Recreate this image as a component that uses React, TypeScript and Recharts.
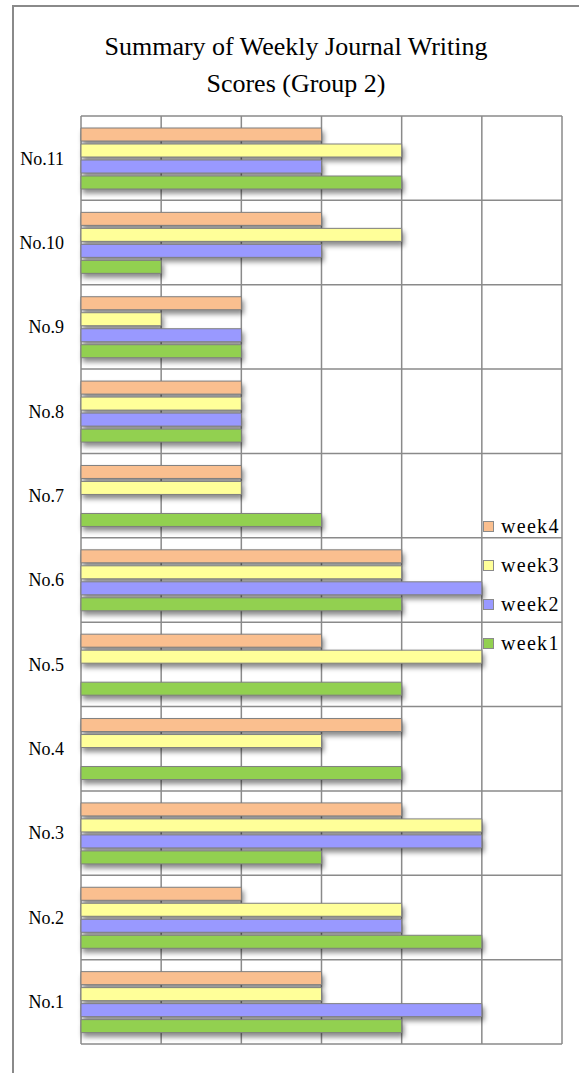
import React from 'react';
import { BarChart, Bar, XAxis, YAxis, CartesianGrid } from 'recharts';

const categories = ['No.1', 'No.2', 'No.3', 'No.4', 'No.5', 'No.6', 'No.7', 'No.8', 'No.9', 'No.10', 'No.11'];
const week1 = [4, 5, 3, 4, 4, 4, 3, 2, 2, 1, 4];
const week2 = [5, 4, 5, 0, 0, 5, 0, 2, 2, 3, 3];
const week3 = [3, 4, 5, 3, 5, 4, 2, 2, 1, 4, 4];
const week4 = [3, 2, 4, 4, 3, 4, 2, 2, 2, 3, 3];
const xTicks = [0, 1, 2, 3, 4, 5, 6];

// top to bottom inside each category
const series = [
  { key: 'week4', color: '#FABF8F' },
  { key: 'week3', color: '#FFFF99' },
  { key: 'week2', color: '#9999FF' },
  { key: 'week1', color: '#92D050' },
];

const data = categories.map((name, i) => ({
  name,
  week1: week1[i],
  week2: week2[i],
  week3: week3[i],
  week4: week4[i],
}));

const font = '"Liberation Serif", "Times New Roman", Times, serif';
const gridColor = '#8a8a8a';

const LegendBox = () => (
  <div style={{ position: 'absolute', left: 483, top: 507, width: 96, fontFamily: font }}>
    {series.map((s) => (
      <div key={s.key} style={{ height: 39, position: 'relative' }}>
        <span
          style={{
            position: 'absolute',
            left: 0,
            top: 14,
            width: 9,
            height: 9,
            background: s.color,
            border: '1px solid #8a8a8a',
          }}
        />
        <span
          style={{
            position: 'absolute',
            left: 18,
            top: 0,
            lineHeight: '39px',
            fontSize: 20,
            letterSpacing: 1.3,
            color: '#000',
          }}
        >
          {s.key}
        </span>
      </div>
    ))}
  </div>
);

const App = () => {
  return (
    <div style={{ position: 'fixed', left: 0, top: 0, width: 579, height: 1073, overflow: 'hidden', background: '#fff' }}>
      <style>{`.recharts-bar-rectangle path { filter: drop-shadow(2px 4px 2.5px rgba(0,0,0,0.45)); }`}</style>
      <div
        style={{
          position: 'absolute',
          left: 12,
          top: 5,
          width: 700,
          height: 1200,
          borderLeft: '2px solid #8a8a8a',
          borderTop: '2px solid #8a8a8a',
        }}
      />
      <div
        style={{
          position: 'absolute',
          left: 96,
          top: 28,
          width: 400,
          textAlign: 'center',
          fontFamily: font,
          fontSize: 26,
          lineHeight: '37px',
          color: '#000',
        }}
      >
        Summary of Weekly Journal Writing
        <br />
        Scores (Group 2)
      </div>
      <div style={{ position: 'absolute', left: 0, top: 0 }}>
        <BarChart
          width={579}
          height={1073}
          data={data}
          layout="vertical"
          margin={{ top: 116, right: 17, bottom: 29, left: 0 }}
          barSize={13}
          barGap={3}
        >
          <CartesianGrid
            stroke={gridColor}
            strokeWidth={1.5}
            horizontalCoordinatesGenerator={({ offset }: any) =>
              Array.from({ length: categories.length + 1 }, (_, i) => offset.top + (i * offset.height) / categories.length)
            }
          />
          <XAxis type="number" domain={[0, 6]} ticks={xTicks} hide />
          <YAxis
            type="category"
            dataKey="name"
            reversed
            width={81}
            axisLine={false}
            tickLine={false}
            tickSize={0}
            tickMargin={17}
            tick={{ fill: '#000', fontSize: 18, fontFamily: font }}
          />
          {series.map((s) => (
            <Bar
              key={s.key}
              dataKey={s.key}
              fill={s.color}
              stroke="#7f7f7f"
              strokeWidth={1}
              isAnimationActive={false}
            />
          ))}
        </BarChart>
      </div>
      <LegendBox />
    </div>
  );
};

export default App;
